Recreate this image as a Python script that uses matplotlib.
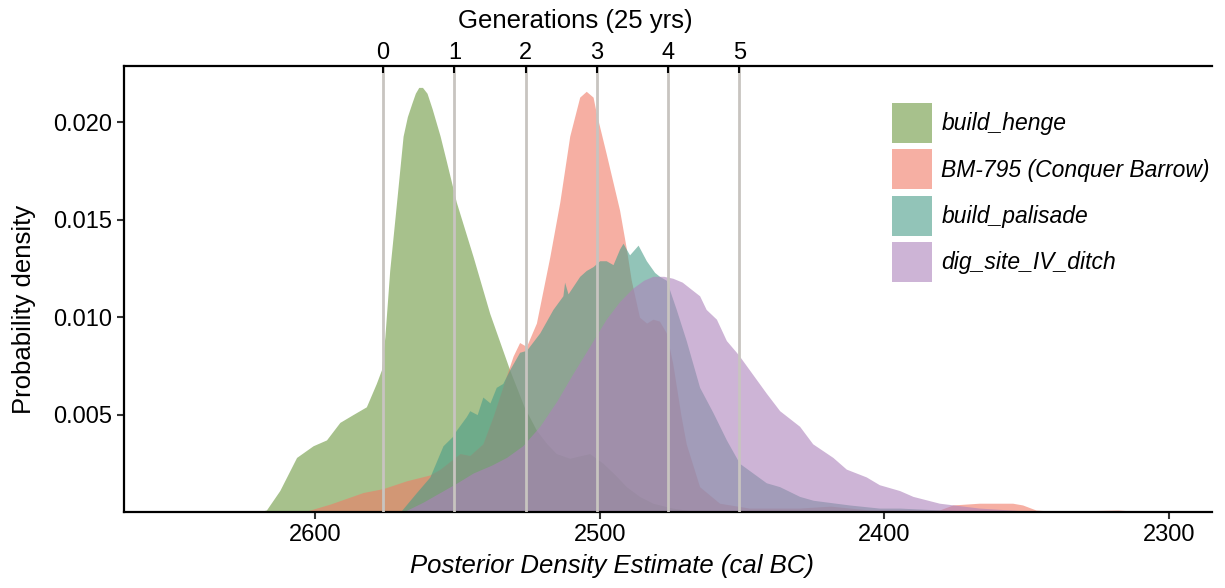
import numpy as np
import matplotlib
matplotlib.use('Agg')
import matplotlib.pyplot as plt

plt.rcParams['font.family'] = ['Liberation Sans', 'DejaVu Sans']

# densities (years cal BC, probability density)
henge_yr = [2620, 2617, 2612.3, 2606.4, 2600.6, 2595.9, 2591.2, 2586.6, 2581.9, 2578.4,
            2576.6, 2575.4, 2573.7, 2571.3, 2569.0, 2567.5, 2565.9, 2564.7, 2563.5, 2562.2,
            2560.6, 2558.8, 2556, 2553.8, 2550.3, 2544.4, 2538.6, 2531.6, 2526.5, 2522.2,
            2518.5, 2515.2, 2510.5, 2506.5, 2503.5, 2498.8, 2494.5, 2490.6, 2486, 2481.3,
            2474.4, 2465]
henge_d = [0, 0.0001, 0.0011, 0.0028, 0.0034, 0.0037, 0.0046, 0.0050, 0.0054, 0.0066,
           0.0073, 0.0090, 0.0124, 0.0159, 0.0193, 0.0203, 0.0210, 0.0215, 0.0218, 0.0218,
           0.0215, 0.0207, 0.0193, 0.0180, 0.0159, 0.0131, 0.0102, 0.0073, 0.0054, 0.0042,
           0.0035, 0.0030, 0.00276, 0.0029, 0.0030, 0.0025, 0.0019, 0.0013, 0.0008, 0.00045,
           0.0002, 0]

bm_yr = [2604, 2594.7, 2583, 2576, 2567.8, 2559.6, 2556, 2549, 2545.6, 2541,
         2537.4, 2532.7, 2530.4, 2528.1, 2525.7, 2522.2, 2517.5, 2514, 2510.5, 2507,
         2504.7, 2502.3, 2501.2, 2497.7, 2493, 2490.6, 2488.9, 2486, 2483.5, 2481.3,
         2479, 2476.6, 2474.3, 2471.5, 2469.6, 2464.9, 2457.9, 2447.4, 2430, 2419,
         2405, 2385, 2380.7, 2376, 2366.7, 2355, 2351.5, 2346.8, 2340, 2318, 2310, 2295]
bm_d = [0, 0.0004, 0.0010, 0.0012, 0.0016, 0.0019, 0.0022, 0.0030, 0.0029, 0.0035,
        0.0049, 0.0070, 0.0080, 0.0087, 0.0085, 0.0097, 0.0131, 0.0159, 0.0193, 0.0213,
        0.0216, 0.0213, 0.0205, 0.0184, 0.0155, 0.0135, 0.0119, 0.0100, 0.0097, 0.0099,
        0.0098, 0.0092, 0.0076, 0.0050, 0.0035, 0.0013, 0.00045, 0.0002, 0.0002, 0.0003,
        0.0001, 0.0001, 0.0001, 0.00036, 0.00045, 0.00045, 0.00036, 0.0001, 0.00003, 0.0001, 0.00002, 0]

pal_yr = [2570, 2564.3, 2559.6, 2555, 2551.5, 2550.3, 2546.8, 2545.6, 2543, 2541,
          2538.5, 2536.3, 2534, 2531.6, 2528.1, 2525.7, 2521, 2516.4, 2512.9, 2512.3,
          2511.1, 2507, 2504.7, 2502.3, 2500, 2497.7, 2495.3, 2493, 2491.8, 2489.5,
          2486.5, 2483.6, 2480.7, 2479, 2476.6, 2473.1, 2469.6, 2464.9, 2460.2, 2455.5,
          2450.9, 2441.5, 2436.8, 2429.8, 2425, 2412.3, 2401.8, 2394.7, 2380, 2360]
pal_d = [0, 0.0010, 0.0018, 0.0034, 0.0039, 0.0042, 0.0049, 0.0052, 0.0050, 0.0059,
         0.0056, 0.0064, 0.0066, 0.0073, 0.0082, 0.0083, 0.0092, 0.0104, 0.0111, 0.0118,
         0.0112, 0.0121, 0.0124, 0.0126, 0.0129, 0.0129, 0.0127, 0.0135, 0.0138, 0.0132,
         0.0137, 0.0129, 0.0123, 0.0121, 0.0119, 0.0104, 0.0088, 0.0064, 0.0051, 0.0037,
         0.0025, 0.0015, 0.0013, 0.0008, 0.0006, 0.00036, 0.0002, 0.0002, 0.0001, 0]

ditch_yr = [2569, 2562, 2556, 2550, 2544.4, 2538, 2532.7, 2527, 2521, 2515,
            2509.4, 2503.5, 2497.7, 2493, 2488.3, 2484.5, 2481.3, 2477.5, 2474.3, 2471,
            2468.4, 2464.9, 2462.6, 2459, 2455.5, 2452, 2450.9, 2441.5, 2436.8, 2429.8,
            2425.2, 2418.1, 2413.4, 2406.4, 2401.8, 2394.7, 2390, 2380.7, 2366.7, 2350, 2340]
ditch_d = [0, 0.0005, 0.0010, 0.0015, 0.0020, 0.0024, 0.0028, 0.0034, 0.0044, 0.0057,
           0.0071, 0.0085, 0.0099, 0.0108, 0.0115, 0.0119, 0.0121, 0.0121, 0.0120, 0.0118,
           0.0115, 0.0111, 0.0104, 0.0099, 0.0088, 0.0082, 0.0080, 0.0061, 0.0052, 0.0044,
           0.0035, 0.0028, 0.0022, 0.0018, 0.0014, 0.0011, 0.0008, 0.00045, 0.0002, 0.00005, 0]

labels = ['build_henge', 'BM-795 (Conquer Barrow)', 'build_palisade', 'dig_site_IV_ditch']
colors = ['#6c993f', '#f07b66', '#499d89', '#ad82bb']

gen_years = [2576, 2551, 2526, 2501, 2476, 2451]
gen_labels = ['0', '1', '2', '3', '4', '5']

fig = plt.figure(figsize=(12.25, 5.88), dpi=100)
ax = fig.add_axes([0.1012, 0.1293, 0.8882, 0.7585])

series = [(henge_yr, henge_d), (bm_yr, bm_d), (pal_yr, pal_d), (ditch_yr, ditch_d)]
for (yr, d), lab, col in zip(series, labels, colors):
    ax.fill_between(yr, d, 0, color=col, alpha=0.6, linewidth=0, label=lab)

for g in gen_years:
    ax.axvline(g, color='#c8c4c0', linewidth=2.0, zorder=5)

ax.set_xlim(2667, 2285)
ax.set_ylim(0, 0.0229)
ax.set_xticks([2600, 2500, 2400, 2300])
ax.set_yticks([0.005, 0.010, 0.015, 0.020])
ax.set_yticklabels(['0.005', '0.010', '0.015', '0.020'])
ax.tick_params(labelsize=17, length=5, width=1.5, color='#333333')
ax.set_xlabel('Posterior Density Estimate (cal BC)', fontsize=18.5, style='italic')
ax.xaxis.set_label_coords(0.4485, -0.095)
ax.set_ylabel('Probability density', fontsize=18.5)
ax.yaxis.set_label_coords(-0.081, 0.453)
for s in ['top', 'right']:
    ax.spines[s].set_visible(False)
for s in ['left', 'bottom']:
    ax.spines[s].set_linewidth(1.6)

ax2 = ax.twiny()
ax2.set_xlim(ax.get_xlim())
ax2.set_xticks(gen_years)
ax2.set_xticklabels(gen_labels)
ax2.tick_params(axis='x', labelsize=17, direction='in', length=5, width=1.5, pad=1.5)
ax2.set_xlabel('Generations (25 yrs)', fontsize=18.5)
ax2.xaxis.set_label_coords(0.4145, 1.085)
for s in ['left', 'right', 'bottom']:
    ax2.spines[s].set_visible(False)
ax2.spines['top'].set_linewidth(1.6)

leg = ax.legend(loc='upper left', bbox_to_anchor=(892 / 1225, 1 - 103 / 588),
                bbox_transform=fig.transFigure, frameon=False,
                prop={'style': 'italic', 'size': 16.5}, handlelength=1.75, handleheight=2.31,
                labelspacing=0.28, handletextpad=0.4, borderpad=0, borderaxespad=0)

fig.savefig('out.png', dpi=100)
